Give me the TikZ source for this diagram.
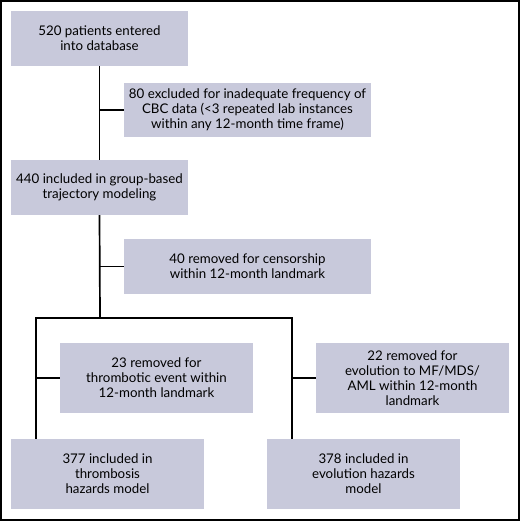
\documentclass[tikz,border=0pt]{standalone}
\usepackage{fontspec}
\setmainfont{Lato}
\definecolor{boxfill}{RGB}{200,201,219}
\begin{document}
\begin{tikzpicture}[x=1pt,y=1pt,
  box/.style={fill=boxfill, draw=none, align=center, inner sep=0pt,
    font=\fontsize{13.3}{15}\selectfont},
  conn/.style={line width=1.7pt, black}]
\useasboundingbox (0,0) rectangle (520,521);
\draw[line width=2pt] (1,1) rectangle (519,520);
\node[box, minimum width=177, minimum height=55] (b1) at (99.5,482.5) {520 patients entered\\into database};
\node[box, minimum width=247, minimum height=54] (b2) at (247.5,411) {80 excluded for inadequate frequency of\\CBC data (<3 repeated lab instances\\within any 12-month time frame)};
\node[box, minimum width=177, minimum height=55] (b3) at (99.5,333.5) {440 included in group-based\\trajectory modeling};
\node[box, minimum width=247, minimum height=55] (b4) at (247.5,254.5) {40 removed for censorship\\within 12-month landmark};
\node[box, minimum width=193, minimum height=70] (b5) at (156.5,143) {23 removed for\\thrombotic event within\\12-month landmark};
\node[box, minimum width=193, minimum height=70] (b6) at (412.5,143) {22 removed for\\evolution to MF/MDS/\\AML within 12-month\\landmark};
\node[box, minimum width=193, minimum height=70] (b7) at (107.5,47) {377 included in\\thrombosis\\hazards model};
\node[box, minimum width=193, minimum height=70] (b8) at (363.5,47) {378 included in\\evolution hazards\\model};
\coordinate (bar) at (100,203);
\coordinate (barL) at (36,203);
\coordinate (barR) at (292,203);
\draw[conn] (b1.south) -- (b3.north);
\draw[conn] (b1.south |- b2.west) -- (b2.west);
\draw[conn] (b3.south) -- (bar);
\draw[conn] (b3.south |- b4.west) -- (b4.west);
\draw[conn] ([xshift=-0.85pt]barL) -- ([xshift=0.85pt]barR);
\draw[conn] (barL) -- (barL |- b7.north);
\draw[conn] (barR) -- (barR |- b8.north);
\draw[conn] (barL |- b5.west) -- (b5.west);
\draw[conn] (barR |- b6.west) -- (b6.west);
\end{tikzpicture}
\end{document}
